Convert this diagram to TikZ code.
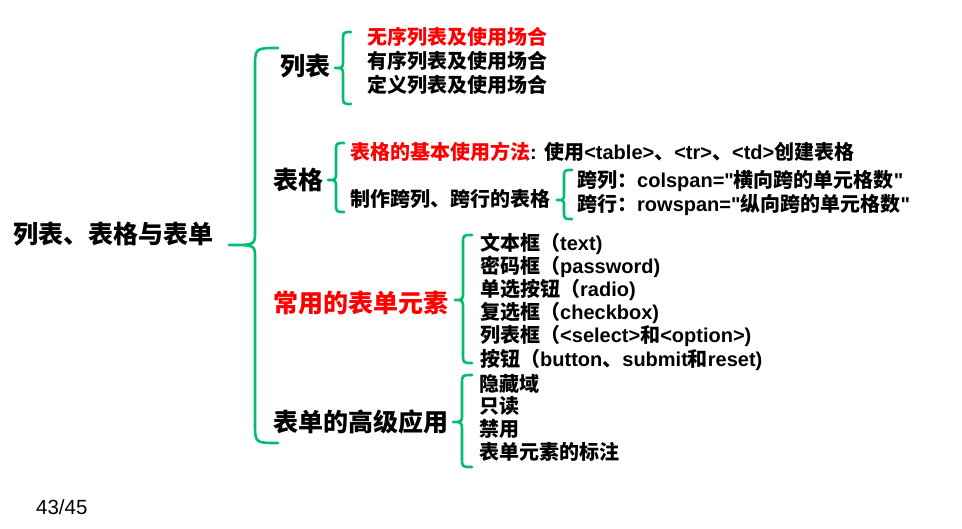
\documentclass[tikz,border=0pt]{standalone}
\usepackage{fontspec}
\setmainfont{Liberation Sans}[Ligatures=TeXOff]
\newfontfamily\cjkfont{Noto Sans CJK SC}
\newcommand\C[1]{{\cjkfont #1}}
\definecolor{bracegreen}{RGB}{0,190,110}
\definecolor{hilite}{RGB}{255,0,0}

\tikzset{
  brace line/.style={draw=bracegreen, line width=2.6pt, line cap=round, line join=round},
  item/.style={anchor=base west, inner sep=0pt, font=\bfseries\fontsize{20}{24}\selectfont},
  topic/.style={anchor=base west, inner sep=0pt, font=\bfseries\fontsize{25}{30}\selectfont},
  pageno/.style={anchor=base west, inner sep=0pt, font=\fontsize{20.5}{24}\selectfont},
}

% left curly brace: tip x, stem x, end x, top y, tip y, bottom y, end radius, tip radius
\newcommand\leftbrace[8]{%
  \draw[brace line] (#3,#4) .. controls (#2,#4) .. (#2,{#4+#7})
    -- (#2,{#5-#8}) .. controls (#2,#5) .. (#1,#5)
    .. controls (#2,#5) .. (#2,{#5+#8})
    -- (#2,{#6-#7}) .. controls (#2,#6) .. (#3,#6);}

\begin{document}
\begin{tikzpicture}[x=1pt, y=-1pt]
\useasboundingbox[fill=white] (0,0) rectangle (962,528);

% root and main branches
\node[topic] (root) at (13,243.5) {\C{列表、表格与表单}};
\leftbrace{229}{255}{278}{48}{245}{443}{20}{13}

\node[topic] (lists) at (280,75.3) {\C{列表}};
\node[topic] (tables) at (273,189.5) {\C{表格}};
\node[topic, text=hilite] (forms) at (273,312.5) {\C{常用的表单元素}};
\node[topic] (advanced) at (273,431.2) {\C{表单的高级应用}};

% lists
\leftbrace{335}{343}{351}{32}{68}{104}{9}{8}
\node[item, text=hilite] (l1) at (367,44) {\C{无序列表及使用场合}};
\node[item] (l2) at (367,68) {\C{有序列表及使用场合}};
\node[item] (l3) at (367,92) {\C{定义列表及使用场合}};

% tables
\leftbrace{328}{336}{344}{143}{180}{212}{9}{8}
\node[item] (t1) at (350,159.3) {\textcolor{hilite}{\C{表格的基本使用方法}}: \C{使用}<table>\C{、}<tr>\C{、}<td>\C{创建表格}};
\node[item] (t2) at (350,206.6) {\C{制作跨列、跨行的表格}};

\leftbrace{557}{564}{572}{170}{200}{219}{8}{7}
\node[item] (s1) at (577,187.6) {\C{跨列：}colspan="\C{横向跨的单元格数}"};
\node[item] (s2) at (577,211.1) {\C{跨行：}rowspan="\C{纵向跨的单元格数}"};

% form elements
\leftbrace{455}{463}{472}{235}{300}{363}{9}{9}
\node[item] (f1) at (480,250) {\C{文本框（}text)};
\node[item] (f2) at (480,273.2) {\C{密码框（}password)};
\node[item] (f3) at (480,296.4) {\C{单选按钮（}radio)};
\node[item] (f4) at (480,319.6) {\C{复选框（}checkbox)};
\node[item] (f5) at (480,342.8) {\C{列表框（}<select>\C{和}<option>)};
\node[item] (f6) at (480,366) {\C{按钮（}button\C{、}submit\C{和}reset)};

% advanced usage
\leftbrace{453}{462}{472}{375}{422}{467}{9}{9}
\node[item] (a1) at (479,391) {\C{隐藏域}};
\node[item] (a2) at (479,413.8) {\C{只读}};
\node[item] (a3) at (479,436.6) {\C{禁用}};
\node[item] (a4) at (479,459.4) {\C{表单元素的标注}};

% slide number
\node[pageno] (page) at (36,514) {43/45};
\end{tikzpicture}
\end{document}
